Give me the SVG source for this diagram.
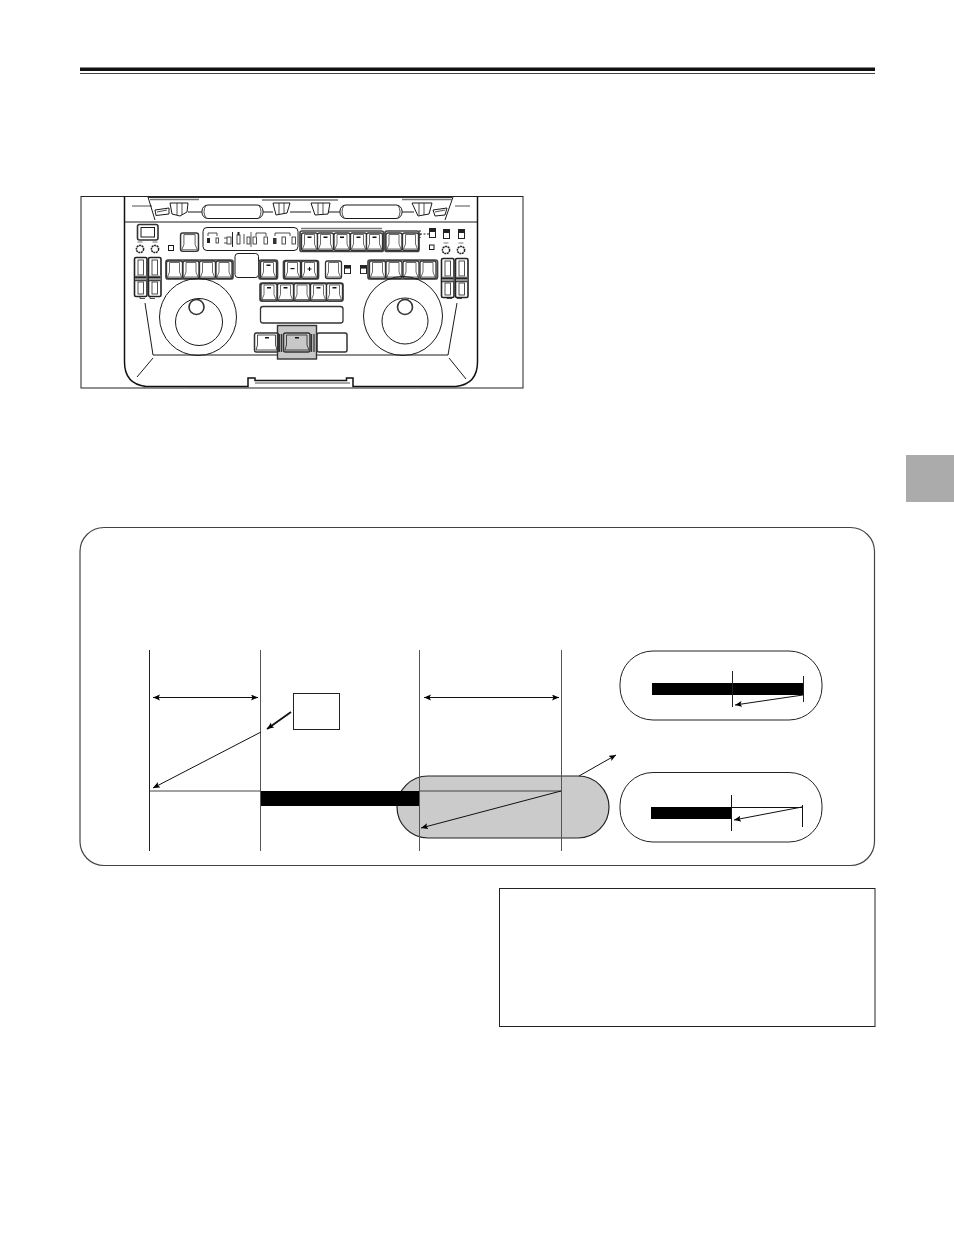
<svg xmlns="http://www.w3.org/2000/svg" width="954" height="1235" viewBox="0 0 954 1235">
<style>
.l{fill:none;stroke:#1a1a1a;stroke-width:1}
.t{fill:none;stroke:#222;stroke-width:.8}
.g{fill:none;stroke:#444;stroke-width:1.700}
.w{fill:#fff;stroke:#1a1a1a;stroke-width:1}
.a{fill:none;stroke:#111;stroke-width:1}
.b{fill:#000;stroke:none}
</style>
<defs>
<marker id="ah" markerUnits="userSpaceOnUse" markerWidth="8" markerHeight="7" refX="7" refY="3" orient="auto-start-reverse"><path d="M0 0L7 3L0 6L1.500 3Z" fill="#000"/></marker>
<g id="k"><rect x=".5" y=".5" width="16" height="17.500" rx="2" fill="#fff" stroke="#333" stroke-width="1.300"/><path d="M3.500 2H13.500V11.500L15.500 16.500H1.500L3.500 11.500Z" fill="none" stroke="#444" stroke-width=".8"/></g>
<g id="kd"><use href="#k"/><rect x="6.500" y="4" width="4" height="1.500" fill="#111"/></g>
<g id="knob"><circle r="3.600" fill="#fff" stroke="#222" stroke-width="1.500" stroke-dasharray="2 .6"/><path d="M-2.500 -7H2.500" stroke="#555" stroke-width=".8"/></g>
<g id="fader"><rect x=".5" y=".5" width="12.500" height="39" rx="1.500" fill="#fff" stroke="#222" stroke-width="1.600"/><rect x="4" y="3" width="5.500" height="15" class="t"/><rect x="4" y="25" width="5.500" height="12" class="t"/><path d="M1 18.500H12.500V23H1Z" fill="#999"/><rect x="1" y="19.500" width="11.500" height="1.600" fill="#222"/><rect x="1" y="23" width="11.500" height="1.300" fill="#444"/></g>
<g id="led"><rect x=".5" y=".5" width="6" height="9" fill="#fff" stroke="#222"/><rect x=".5" y=".5" width="6" height="3.500" fill="#222"/></g>
</defs>

<rect x="80" y="67.500" width="795" height="3.500" fill="#111"/>
<rect x="80" y="73" width="795" height="1" fill="#444"/>
<rect x="906" y="455" width="48" height="47" fill="#ababab"/>

<g id="device">
<rect x="81" y="196.500" width="442" height="191.500" fill="#fff" stroke="#222" stroke-width="1"/>
<path fill="none" stroke="#111" stroke-width="1.500" d="M124.500 196.500V362Q124.500 384 146 386.500H248V378H255V380.500H346.500V378H353V386.500H456Q477.500 384 477.500 362V196.500"/>
<path d="M143 387.500H187M353 387.500H420" stroke="#777" stroke-width="1" fill="none"/>
<path class="t" d="M255 383H350"/>
<path class="l" d="M124.500 222H477.500"/>
<path class="l" d="M148 197L155 220M453 197L445 220"/>
<path d="M148 197.500H452" stroke="#333" stroke-width="1" fill="none"/>
<path d="M150 199.500H199M262 200H338M402 199.500H452" stroke="#777" stroke-width="1.500" fill="none"/>
<path class="t" d="M132 206H152M455 206H470"/>
<path class="l" d="M155 210L169 208V214L156 215.500Z"/><path class="t" d="M157 212L167 210"/>
<path class="l" d="M170 203H188L187 212L180 216L172 214Z"/><path class="t" d="M177 203V215M182 203V215"/>
<path class="l" d="M273 203H290L287 213L276 215Z"/><path class="t" d="M279 203V214M284 203V214"/>
<path class="l" d="M311 203H330L328 214L315 215Z"/><path class="t" d="M318 203V214M323 203V214"/>
<path class="l" d="M412 203H432L429 214L418 216Z"/><path class="t" d="M419 203V215M424 203V215"/>
<path class="l" d="M433 210L447 208L445 215L435 216Z"/><path class="t" d="M435 212L445 210"/>
<path class="l" d="M188 212H202M263 212H273M290 212H311M328 212H340M402 212H414"/>
<rect x="202" y="205" width="61" height="13.500" rx="6" class="w"/>
<path class="t" d="M206 205Q202 212 206 218M259 205Q263 212 259 218"/>
<rect x="340" y="205" width="62" height="13.500" rx="6" class="w"/>
<path class="t" d="M344 205Q340 212 344 218M398 205Q402 212 398 218"/>

<rect x="137.500" y="224.500" width="20.500" height="15.500" rx="2" fill="#fff" stroke="#333" stroke-width="1.600"/>
<rect x="141" y="227.500" width="13.500" height="9.500" class="l"/>
<use href="#knob" x="140" y="249"/><use href="#knob" x="155" y="249"/>
<rect x="168.500" y="245.500" width="5" height="5" class="l"/>
<use href="#k" transform="translate(180 232.500) scale(1.120 1.050)"/>

<rect x="203" y="227.500" width="95" height="23" rx="4" class="w"/>
<g id="display-glyphs">
<path class="t" d="M208 236V233H217V236M244 244V234M256 236V233H266V236M275 236V233H290V236"/>
<path d="M232.500 232V247" stroke="#222" stroke-width="1" fill="none"/><path d="M251 232V247" stroke="#777" stroke-width="1.200" fill="none"/>
<rect x="207" y="238" width="3" height="5" fill="#222"/><rect x="216" y="238" width="2.500" height="5" class="t"/>
<rect x="227" y="237" width="4" height="7" class="t"/><path class="t" d="M224 238H227M224 243H227"/>
<rect x="237" y="235" width="3" height="9" class="t"/><rect x="237.500" y="232" width="2" height="3" fill="#222"/>
<rect x="247" y="237" width="3" height="7" class="t"/><rect x="253" y="237" width="3.500" height="7" class="t"/><rect x="264" y="237" width="3.500" height="7" class="t"/>
<rect x="273" y="238" width="3.500" height="6" fill="#333"/><rect x="282" y="237" width="3.500" height="7" class="t"/><rect x="292" y="237" width="3.500" height="7" class="t"/>
</g>

<path d="M301 228.500H382" stroke="#777" stroke-width="1.500" fill="none"/>
<rect x="300" y="231" width="83.500" height="20.500" rx="2" class="g"/>
<use href="#kd" x="301" y="232.500"/><use href="#kd" x="317" y="232.500"/><use href="#kd" x="333.500" y="232.500"/><use href="#kd" x="350" y="232.500"/><use href="#kd" x="366" y="232.500"/>
<rect x="385" y="231" width="34" height="20.500" rx="2" class="g"/>
<use href="#k" x="385.500" y="232.500"/><use href="#k" x="402" y="232.500"/>
<path class="l" stroke-dasharray="2 1.500" d="M420 230V238M420 234H429"/>
<use href="#led" x="429" y="228"/><use href="#led" x="443" y="229"/><use href="#led" x="458" y="229"/>
<rect x="429.500" y="245" width="4.500" height="4.500" class="l"/>
<use href="#knob" x="446" y="250"/><use href="#knob" x="461" y="250"/>

<rect x="166" y="260" width="67" height="19" rx="2" class="g"/>
<use href="#k" x="166" y="260.500"/><use href="#k" x="182.500" y="260.500"/><use href="#k" x="199" y="260.500"/><use href="#k" x="215.500" y="260.500"/>
<rect x="235" y="253.500" width="23.500" height="24" rx="3" class="w"/>
<rect x="259" y="260" width="18.500" height="19" rx="2" class="g"/><use href="#kd" x="260" y="260.500"/>
<rect x="283.500" y="260.500" width="35" height="18.500" rx="2" class="g"/>
<use href="#k" x="284" y="260.500"/><use href="#k" x="301" y="260.500"/>
<rect x="290.500" y="268" width="4" height="1.200" fill="#111"/><path d="M307.500 269H311.500M309.500 267V271" stroke="#111" stroke-width="1"/>
<use href="#k" x="325" y="260.500"/>
<use href="#led" transform="translate(344 265) scale(1 .9)"/>
<use href="#led" transform="translate(360 265) scale(1 .9)"/>
<rect x="368" y="260" width="69.500" height="19" rx="2" class="g"/>
<use href="#k" x="369" y="260.500"/><use href="#k" x="385.500" y="260.500"/><use href="#k" x="402.500" y="260.500"/><use href="#k" x="419.500" y="260.500"/>

<use href="#fader" x="134" y="257"/><use href="#fader" x="148" y="257"/>
<use href="#fader" x="441" y="258"/><use href="#fader" x="455" y="258"/>
<path d="M147.700 260V296M454.700 260V296" stroke="#555" stroke-dasharray="1 1" fill="none"/>
<path class="t" d="M140 297V298.500H145M150 297V298.500H155M447 297V298.500H452M457 297V298.500H462"/>

<circle cx="198" cy="317" r="38.500" class="l"/>
<circle cx="199" cy="322" r="23.500" class="l"/>
<circle cx="196.500" cy="307" r="7.500" fill="#fff" stroke="#333" stroke-width="1.600"/>
<circle cx="403" cy="316" r="39.500" class="l"/>
<circle cx="405" cy="321" r="23" class="l"/>
<circle cx="405" cy="307" r="7.500" fill="#fff" stroke="#333" stroke-width="1.600"/>

<rect x="260" y="283" width="83" height="18" rx="2" class="g"/>
<use href="#kd" x="260.500" y="283"/><use href="#kd" x="277" y="283"/><use href="#k" x="293.500" y="283"/><use href="#kd" x="310" y="283"/><use href="#kd" x="326" y="283"/>
<rect x="260.500" y="306.500" width="82.500" height="16.500" rx="2.500" fill="#fff" stroke="#333" stroke-width="1.300"/>

<path class="l" d="M145 303L153 355H448L457 303M153 358L137 377M449 358L466 379"/>

<rect x="277.500" y="325.500" width="39" height="33.500" fill="#c8c8c8"/>
<rect x="254.500" y="333" width="24" height="19" rx="2" fill="#fff" stroke="#333" stroke-width="1.500"/>
<path class="t" d="M257.500 335H275.500V345L277 350H256L257.500 345Z"/>
<rect x="265" y="337" width="4" height="1.500" fill="#111"/>
<rect x="283.500" y="333" width="26.500" height="19" rx="2" fill="#c8c8c8" stroke="#333" stroke-width="1.500"/>
<path class="t" d="M286.500 335H307V345L309 350H285L286.500 345Z"/>
<rect x="295" y="337" width="4" height="1.500" fill="#111"/>
<path d="M279.500 334V352M281.500 334V352M311.500 334V352M314 334V352" stroke="#333" stroke-width="1.300" fill="none"/>
<rect x="317" y="333" width="30" height="19" rx="2" fill="#fff" stroke="#333" stroke-width="1.500"/>
<rect x="277.500" y="325.500" width="39" height="33.500" fill="none" stroke="#333" stroke-width="1.400"/>
</g>

<g id="panel"><rect x="80" y="527.500" width="794.500" height="338" rx="24" fill="#fff" stroke="#444" stroke-width="1.200"/></g>

<g id="gray-pill"><rect x="397" y="776" width="212" height="62" rx="31" fill="#cbcbcb" stroke="#222" stroke-width="1.200"/></g>
<g id="run-bar"><rect x="261" y="791" width="158.500" height="15" class="b"/></g>
<g id="small-box"><rect x="293.500" y="693.500" width="46" height="36" fill="#fff" stroke="#222" stroke-width="1"/></g>
<g id="pill-top"><rect x="620" y="651" width="202" height="69" rx="33" fill="#fff" stroke="#222" stroke-width="1"/>
<rect x="652" y="683" width="152" height="12" class="b"/>
<path d="M732.500 671V707M803.500 676V702" stroke="#222" fill="none"/></g>
<g id="pill-bottom"><rect x="620" y="772.500" width="202" height="69.500" rx="33" fill="#fff" stroke="#222" stroke-width="1"/>
<rect x="651" y="807" width="81" height="12" class="b"/>
<path d="M731.500 795V831M802.500 805V827M732 807.500H802" stroke="#111" fill="none"/></g>

<g id="connectors">
<path d="M149.500 650V851" stroke="#222" stroke-width="1" fill="none"/>
<path d="M260.500 650V851M419.500 650V851M561.500 650V851" stroke="#555" stroke-width="1" fill="none"/>
<path d="M150 791H261M419 791H561.500" stroke="#444" stroke-width="1" fill="none"/>
<path class="a" d="M153 697.500H258" marker-start="url(#ah)" marker-end="url(#ah)"/>
<path class="a" d="M424 697.500H559" marker-start="url(#ah)" marker-end="url(#ah)"/>
<path d="M291 712L267 729" fill="none" stroke="#111" stroke-width="1.800" marker-end="url(#ah)"/>
<path class="a" d="M261 732L153 788" marker-end="url(#ah)"/>
<path class="a" d="M561 791L421 828" marker-end="url(#ah)"/>
<path class="a" d="M579 776L616 755" marker-end="url(#ah)"/>
<path class="a" d="M803 695L735 705" marker-end="url(#ah)"/>
<path class="a" d="M802 807L734 820" marker-end="url(#ah)"/>
</g>

<g id="note-box"><rect x="499.500" y="888.500" width="375.500" height="138" fill="#fff" stroke="#222" stroke-width="1"/></g>
</svg>
